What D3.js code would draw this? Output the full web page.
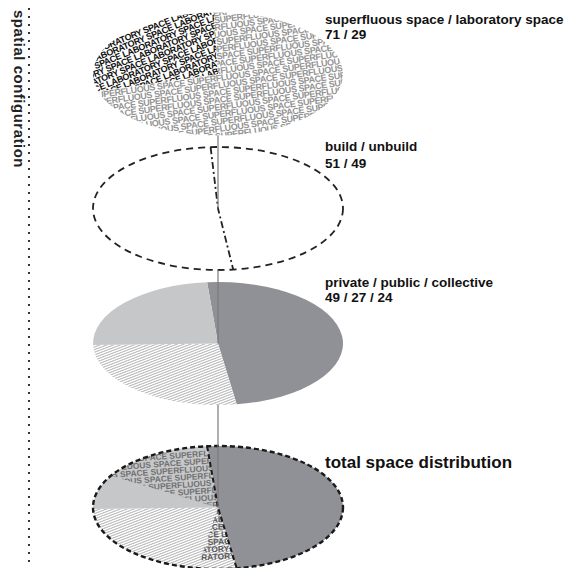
<!DOCTYPE html>
<html><head><meta charset="utf-8">
<script src="https://cdn.jsdelivr.net/npm/d3@7"></script>
<style>html,body{margin:0;padding:0;background:#fff}</style>
</head><body>
<svg id="c" width="569" height="568"></svg>
<script>
// ---------- data ----------
const sideTitle = "spatial configuration";
const topCats = ["superfluous space", "laboratory space"];
const topVals = [71, 29];
const buildCats = ["build", "unbuild"];
const buildVals = [51, 49];
const useCats = ["private", "public", "collective"];
const useVals = [49, 27, 24];
const totalTitle = "total space distribution";
const totalOverlayCats = ["superfluous space", "laboratory space"];
const totalOverlayVals = [15, 5];

// ---------- layout ----------
const svg = d3.select("#c");
const font = "'Liberation Sans', Arial, Helvetica, sans-serif";
const cx = 218, rx = 125, ry = 61.5, k = ry / rx;
const deg = Math.PI / 180;
const cys = [74, 208.5, 343.5, 507.5];
const DARK = "#8f9196", LIGHT = "#c6c7c9";

const defs = svg.append("defs");
const hatch = defs.append("pattern").attr("id", "hatch")
  .attr("patternUnits", "userSpaceOnUse").attr("width", 8).attr("height", 4.2)
  .attr("patternTransform", "rotate(-38)");
hatch.append("rect").attr("width", 8).attr("height", 4.2).attr("fill", "#fff");
hatch.append("rect").attr("width", 8).attr("height", 2).attr("fill", "#c0c0c0");

const arc = d3.arc().innerRadius(0).outerRadius(rx);
const ellT = cy => `translate(${cx},${cy}) scale(1,${k})`;
const pt = (cy, a) => [cx + rx * Math.sin(a), cy - ry * Math.cos(a)];
const pieGen = (start) => d3.pie().sort(null).startAngle(start).endAngle(start + 2 * Math.PI);

function chord(rotDeg, yl) {
  const th = rotDeg * deg, c = Math.cos(th), s = Math.sin(th);
  const ax = c / rx, bx = -yl * s / rx, ay = s / ry, by = yl * c / ry;
  const A = ax * ax + ay * ay, B = 2 * (ax * bx + ay * by), C = bx * bx + by * by - 1;
  const D = B * B - 4 * A * C;
  if (D < 0) return null;
  return [(-B - Math.sqrt(D)) / (2 * A), (-B + Math.sqrt(D)) / (2 * A)];
}

let clipId = 0;
function textFill(d, cy, word, o) {
  const id = "clip" + (clipId++);
  defs.append("clipPath").attr("id", id).append("path").attr("d", d).attr("transform", ellT(cy));
  const g = svg.append("g").attr("clip-path", `url(#${id})`);
  const inner = g.append("g").attr("transform", `translate(${cx},${cy}) rotate(${o.rot})`);
  const long = Array(8).fill(word).join(" ");
  const th = o.rot * deg, c = Math.cos(th), s = Math.sin(th);
  for (let i = -12; i <= 12; i++) {
    const yl = i * o.lh;
    const ch = chord(o.rot, yl - o.fs * 0.35);
    if (!ch) continue;
    const phase = ((i * o.shift) % 40 + 40) % 40;
    const x0 = ch[0] - phase * 0.5;
    const need = ch[1] - x0 + 4;
    // skip rows that would spill past canvas bottom/top
    const yEnds = [x0 * s + yl * c + cy, (x0 + need) * s + yl * c + cy];
    if (Math.max(...yEnds) > 566 || Math.min(...yEnds) < 4) continue;
    const t = inner.append("text")
      .attr("x", x0).attr("y", yl)
      .attr("font-family", font).attr("font-weight", "bold")
      .attr("font-size", o.fs).attr("letter-spacing", o.ls)
      .attr("fill", o.color)
      .text(long.slice(phase % word.length));
    const L = t.node().getComputedTextLength();
    const n = t.text().length;
    const keep = Math.min(n, Math.ceil(need / (L / n)) + 1);
    t.text(t.text().slice(0, keep));
  }
}

// ---------- 1: superfluous / laboratory ----------
const topArcs = pieGen(-2 * deg)(topVals);
topArcs.forEach((a, i) => {
  if (i === 0) textFill(arc(a), cys[0], "SUPERFLUOUS SPACE", {rot: -8, lh: 7.2, fs: 9, ls: -0.4, shift: 17, color: "#939393"});
  else textFill(arc(a), cys[0], "LABORATORY SPACE", {rot: -22, lh: 7.2, fs: 9, ls: -0.4, shift: 23, color: "#111"});
});

// ---------- 2: build / unbuild ----------
const buildArcs = pieGen(173 * deg)(buildVals);
svg.append("g").attr("transform", ellT(cys[1])).selectAll("path").data(buildArcs).join("path")
  .attr("d", arc).attr("fill", "#fff");
svg.append("ellipse").attr("cx", cx).attr("cy", cys[1]).attr("rx", rx).attr("ry", ry)
  .attr("fill", "none").attr("stroke", "#222").attr("stroke-width", 1.8).attr("stroke-dasharray", "7 5");
{
  const p1 = pt(cys[1], buildArcs[0].startAngle), p2 = pt(cys[1], buildArcs[0].endAngle);
  svg.append("path").attr("d", `M${p2[0]},${p2[1]}L${cx},${cys[1]}L${p1[0]},${p1[1]}`)
    .attr("fill", "none").attr("stroke", "#222").attr("stroke-width", 1.8).attr("stroke-dasharray", "7 3 2 3");
}

// ---------- 3: private / public / collective ----------
const useFill = [DARK, "url(#hatch)", LIGHT];
const useArcs = pieGen(-5 * deg)(useVals);
svg.append("g").attr("transform", ellT(cys[2])).selectAll("path").data(useArcs).join("path")
  .attr("d", arc).attr("fill", (d, i) => useFill[i]);

// ---------- 4: total ----------
const totArcs = pieGen(-5 * deg)(useVals);
svg.append("g").attr("transform", ellT(cys[3])).selectAll("path").data(totArcs).join("path")
  .attr("d", arc).attr("fill", (d, i) => useFill[i]);
{
  const tot = d3.sum(useVals);
  const supEnd = totArcs[2].endAngle;
  const supStart = supEnd - totalOverlayVals[0] / tot * 2 * Math.PI;
  const labStart = totArcs[0].endAngle;
  const labEnd = labStart + totalOverlayVals[1] / tot * 2 * Math.PI;
  textFill(arc({startAngle: supStart, endAngle: supEnd}), cys[3],
    "SUPERFLUOUS SPACE", {rot: -4, lh: 7.4, fs: 8.4, ls: 0, shift: 19, color: "#707070"});
  textFill(arc({startAngle: labStart, endAngle: labEnd}), cys[3],
    "LABORATORY SPACE", {rot: -3, lh: 7.4, fs: 8.4, ls: 0, shift: 13, color: "#5a5a5a"});
}
svg.append("ellipse").attr("cx", cx).attr("cy", cys[3]).attr("rx", rx).attr("ry", ry)
  .attr("fill", "none").attr("stroke", "#1a1a1a").attr("stroke-width", 2.4).attr("stroke-dasharray", "5 3");
{
  const p1 = pt(cys[3], totArcs[0].startAngle), p2 = pt(cys[3], totArcs[0].endAngle);
  svg.append("path").attr("d", `M${p1[0]},${p1[1]}L${cx},${cys[3]}L${p2[0]},${p2[1]}`)
    .attr("fill", "none").attr("stroke", "#1a1a1a").attr("stroke-width", 2).attr("stroke-dasharray", "5 3");
}

// ---------- connector line ----------
for (let i = 0; i < 3; i++) {
  svg.append("line").attr("x1", cx).attr("x2", cx)
    .attr("y1", cys[i] + ry).attr("y2", cys[i + 1])
    .attr("stroke", "#7a7a7a").attr("stroke-width", 1.2);
}

// ---------- labels ----------
const labelX = 325;
const labs = [
  {t: topCats.join(" / "), v: topVals.join(" / "), y1: 24, y2: 38.5},
  {t: buildCats.join(" / "), v: buildVals.join(" / "), y1: 151, y2: 167.5},
  {t: useCats.join(" / "), v: useVals.join(" / "), y1: 286.5, y2: 302}
];
labs.forEach(l => {
  svg.append("text").attr("x", labelX).attr("y", l.y1).attr("font-family", font).attr("font-weight", "bold")
    .attr("font-size", 13.5).attr("fill", "#111").text(l.t);
  svg.append("text").attr("x", labelX).attr("y", l.y2).attr("font-family", font).attr("font-weight", "bold")
    .attr("font-size", 13.5).attr("fill", "#111").text(l.v);
});
svg.append("text").attr("x", labelX).attr("y", 468).attr("font-family", font).attr("font-weight", "bold")
  .attr("font-size", 17).attr("fill", "#111").text(totalTitle);

// ---------- side title & dotted rule ----------
svg.append("text").attr("transform", "translate(13.5,10) rotate(90)")
  .attr("font-family", font).attr("font-weight", "bold").attr("font-size", 15)
  .attr("letter-spacing", 0.5).attr("fill", "#222").text(sideTitle);
svg.append("line").attr("x1", 29).attr("x2", 29).attr("y1", 8).attr("y2", 566)
  .attr("stroke", "#333").attr("stroke-width", 2).attr("stroke-dasharray", "2 6");
</script>
</body></html>
